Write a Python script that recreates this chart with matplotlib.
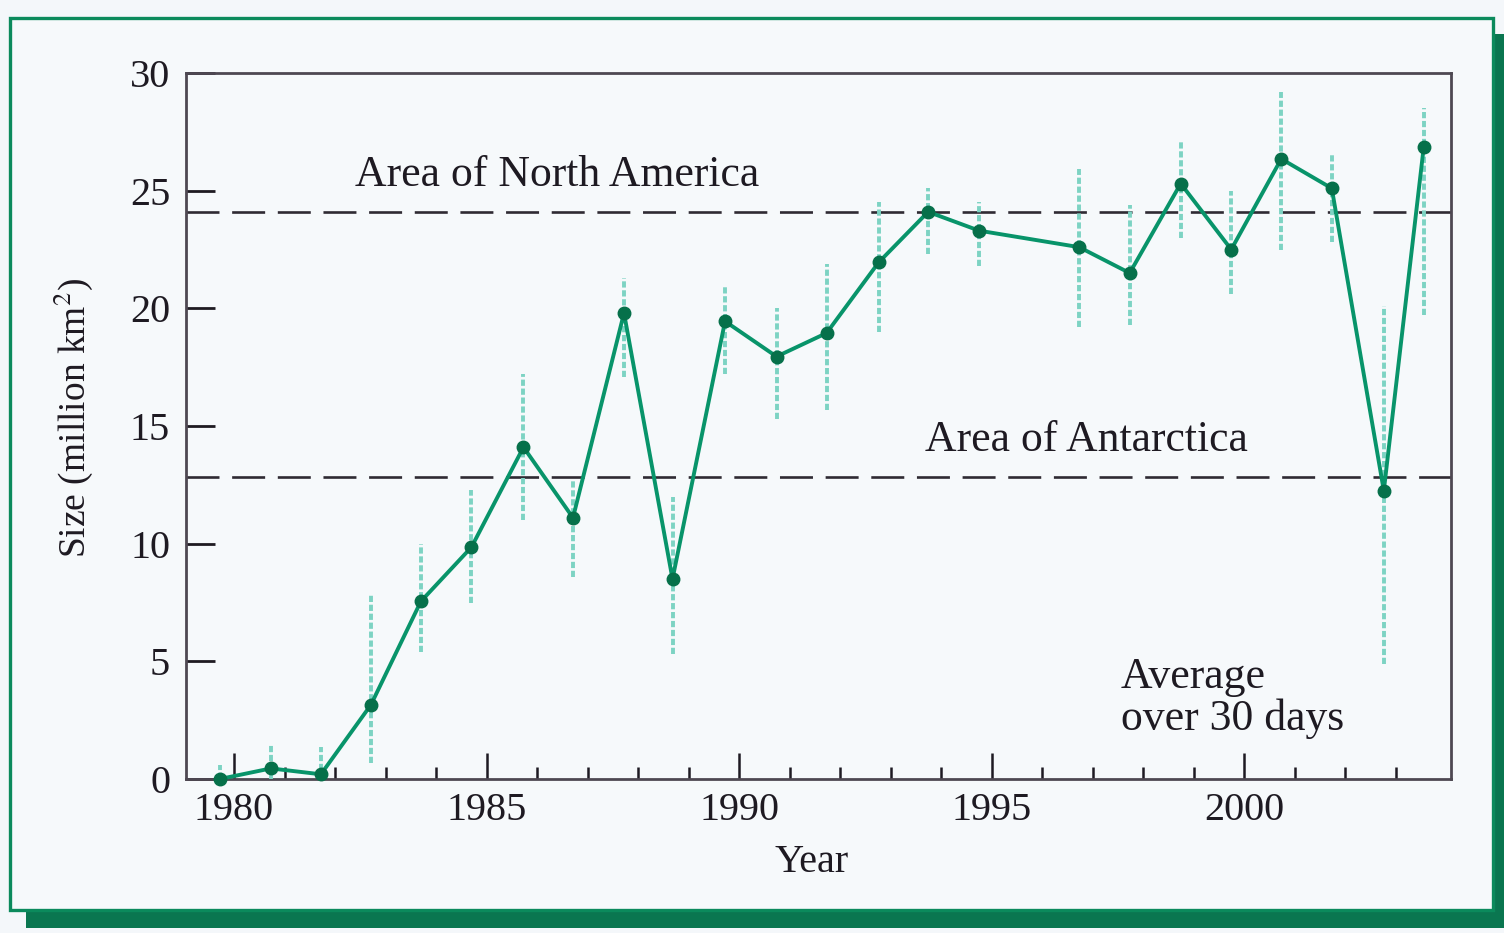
import matplotlib
matplotlib.use("Agg")
import matplotlib.pyplot as plt
from matplotlib.patches import Rectangle
from matplotlib.ticker import FixedLocator

# Ozone hole size, averaged over 30 days (plotted at the time of the spring season)
season_pos = [1979.72, 1980.73, 1981.72, 1982.71, 1983.70, 1984.70, 1985.73, 1986.71,
              1987.72, 1988.68, 1989.72, 1990.74, 1991.73, 1992.76, 1993.74, 1994.75,
              1996.73, 1997.73, 1998.74, 1999.74, 2000.73, 2001.73, 2002.76, 2003.55]
size_mkm2 = [0.0, 0.45, 0.2, 3.15, 7.55, 9.85, 14.1, 11.1,
             19.8, 8.5, 19.45, 17.95, 18.95, 21.95, 24.1, 23.3,
             22.6, 21.5, 25.3, 22.5, 26.35, 25.1, 12.25, 26.85]
range_low = [0.0, 0.0, 0.0, 0.7, 5.4, 7.5, 11.0, 8.6,
             17.1, 5.3, 17.2, 15.3, 15.7, 19.0, 22.3, 21.8,
             19.2, 19.3, 23.0, 20.6, 22.5, 22.8, 4.9, 19.7]
range_high = [0.6, 1.5, 1.35, 7.8, 10.0, 12.3, 17.2, 12.7,
              21.3, 12.0, 20.9, 20.0, 21.9, 24.5, 25.1, 24.5,
              25.9, 24.4, 27.1, 25.0, 29.2, 26.5, 20.1, 28.5]

# Reference areas (million km^2)
north_america_area = 24.1
antarctica_area = 12.85

y_ticks = [0, 5, 10, 15, 20, 25, 30]
x_major = [1980, 1985, 1990, 1995, 2000]
x_minor = list(range(1979, 2004))

W, H = 1504, 933
BG = "#f4f7fa"
GREEN_LINE = "#08946a"
GREEN_MARK = "#06704a"
ERR_COLOR = "#7dd3c3"
FRAME_GREEN = "#0b8a5c"
SHADOW_GREEN = "#0a7650"
INK = "#1e1a22"

plt.rcParams["font.family"] = ["Liberation Serif", "DejaVu Serif"]
plt.rcParams["mathtext.fontset"] = "stix"

fig = plt.figure(figsize=(W / 100, H / 100), dpi=100, facecolor=BG)


def px_box(x0, y0, x1, y1, **kw):
    return Rectangle((x0 / W, 1 - y1 / H), (x1 - x0) / W, (y1 - y0) / H,
                     transform=fig.transFigure, **kw)


# Card with a drop shadow
fig.add_artist(px_box(26, 34, 1530, 928, facecolor=SHADOW_GREEN, edgecolor="none", zorder=0))
fig.add_artist(px_box(10, 18, 1493, 910, facecolor="#f6f9fb", edgecolor=FRAME_GREEN,
                      linewidth=2.4, zorder=0.5))

ax = fig.add_axes([185.5 / W, 1 - 779 / H, (1450.5 - 185.5) / W, (779 - 73) / H])
ax.set_facecolor("#f6f9fb")
ax.set_zorder(1)

ax.set_xlim(1979.04, 2004.08)
ax.set_ylim(0, 30)

# Reference area lines
dash_kw = dict(color="#2f2a33", linewidth=1.9, dashes=(12.5, 4.8), zorder=2)
ax.axhline(north_america_area, **dash_kw)
ax.axhline(antarctica_area, **dash_kw)

# Uncertainty ranges
ax.vlines(season_pos, range_low, range_high, colors=ERR_COLOR, linewidth=2.8,
          linestyles=[(0, (1.6, 0.7))], zorder=3)

# Ozone hole size series
ax.plot(season_pos, size_mkm2, color=GREEN_LINE, linewidth=2.8, zorder=4,
        marker="o", markersize=9, markerfacecolor=GREEN_MARK, markeredgecolor=GREEN_MARK,
        clip_on=False)

# Axes styling
for side in ["left", "right", "top", "bottom"]:
    ax.spines[side].set_color("#4e4852")
    ax.spines[side].set_linewidth(2.0)

ax.yaxis.set_major_locator(FixedLocator(y_ticks))
ax.xaxis.set_major_locator(FixedLocator(x_major))
ax.xaxis.set_minor_locator(FixedLocator(x_minor))
ax.set_xticklabels([str(v) for v in x_major])
ax.set_yticklabels([str(v) for v in y_ticks])

ax.tick_params(axis="y", which="major", direction="in", length=21, width=2.0,
               color=INK, labelsize=29, pad=11, labelcolor=INK)
ax.tick_params(axis="x", which="major", direction="in", length=19, width=1.8,
               color=INK, labelsize=29, pad=9, labelcolor=INK)
ax.tick_params(axis="x", which="minor", direction="in", length=8.5, width=1.8, color=INK)
ax.tick_params(top=False, right=False, which="both")

# Annotations
ax.text(1982.39, 25.2, "Area of North America", fontsize=31.5, color=INK,
        ha="left", va="baseline", zorder=5)
ax.text(1993.68, 13.95, "Area of Antarctica", fontsize=31.5, color=INK,
        ha="left", va="baseline", zorder=5)
ax.text(1997.55, 3.85, "Average", fontsize=31.5, color=INK, ha="left", va="baseline", zorder=5)
ax.text(1997.55, 2.1, "over 30 days", fontsize=31.5, color=INK, ha="left", va="baseline", zorder=5)

# Axis titles
fig.text(812 / W, 1 - 872 / H, "Year", fontsize=29, color=INK, ha="center", va="baseline")
fig.text(73 / W, 1 - 418 / H, r"Size (million km$^2$)", fontsize=27, color=INK,
         rotation=90, ha="center", va="center")

fig.savefig("out.png", dpi=100, facecolor=BG)
